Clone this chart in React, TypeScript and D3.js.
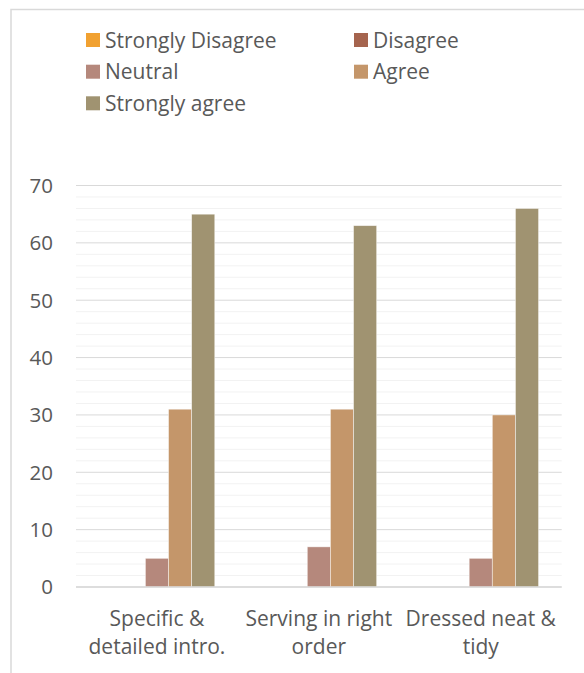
import React from "react";
import * as d3 from "d3";

const categories = [
  ["Specific &", "detailed intro."],
  ["Serving in right", "order"],
  ["Dressed neat &", "tidy"],
];
const categoryKeys = ["c1", "c2", "c3"];

const seriesNames = ["Strongly Disagree", "Disagree", "Neutral", "Agree", "Strongly agree"];
const seriesColors = ["#F1A131", "#A5644E", "#B5887C", "#C4966A", "#A09371"];

const stronglyDisagree = [0, 0, 0];
const disagree = [0, 0, 0];
const neutral = [5, 7, 5];
const agree = [31, 31, 30];
const stronglyAgree = [65, 63, 66];

const seriesValues = [stronglyDisagree, disagree, neutral, agree, stronglyAgree];

const yTicks = [0, 10, 20, 30, 40, 50, 60, 70];
const yMinorTicks = d3.range(0, 71, 2).filter((v) => v % 10 !== 0);

const W = 584;
const H = 673;
const FONT = "'Open Sans', sans-serif";
const TEXT = "#595959";
const FS = 21;

export default function App() {
  const x = d3.scaleBand<string>().domain(categoryKeys).range([76, 561.7]);
  const xs = d3
    .scaleBand<string>()
    .domain(seriesNames)
    .range([0, x.bandwidth()])
    .paddingInner(0)
    .paddingOuter(1);
  const y = d3.scaleLinear().domain([0, 70]).range([587, 185.5]);

  const [x0, x1] = x.range();

  const legendPos = [
    [86, 40],
    [354, 40],
    [86, 71.7],
    [354, 71.7],
    [86, 103.3],
  ];

  return (
    <svg
      width={W}
      height={H}
      style={{ position: "absolute", left: 0, top: 0, background: "#fff" }}
      fontFamily={FONT}
    >
      {/* chart frame */}
      <rect x={11} y={9.5} width={W + 20} height={H + 20} fill="#fff" stroke="#d9d9d9" strokeWidth={1.5} />

      {/* legend */}
      {seriesNames.map((name, i) => (
        <g key={name} transform={`translate(${legendPos[i][0]},${legendPos[i][1]})`}>
          <rect x={0} y={-7} width={14} height={14} fill={seriesColors[i]} />
          <text x={19} y={0} dy="0.36em" fontSize={FS} fill={TEXT}>
            {name}
          </text>
        </g>
      ))}

      {/* gridlines */}
      {yMinorTicks.map((t) => (
        <line key={"m" + t} x1={x0} x2={x1} y1={y(t)} y2={y(t)} stroke="#f2f2f2" strokeWidth={1} />
      ))}
      {yTicks.map((t) => (
        <line key={"g" + t} x1={x0} x2={x1} y1={y(t)} y2={y(t)} stroke="#d9d9d9" strokeWidth={1} />
      ))}

      {/* bars */}
      {categoryKeys.map((c, ci) => (
        <g key={c} transform={`translate(${x(c)},0)`}>
          {seriesNames.map((s, si) => {
            const v = seriesValues[si][ci];
            return (
              <rect
                key={s}
                x={xs(s)}
                y={y(v)}
                width={xs.bandwidth()}
                height={y(0) - y(v)}
                fill={seriesColors[si]}
                stroke="#ffffff"
                strokeOpacity={0.6}
                strokeWidth={0.75}
              />
            );
          })}
        </g>
      ))}

      {/* x axis line */}
      <line x1={x0} x2={x1} y1={y(0)} y2={y(0)} stroke="#d9d9d9" strokeWidth={1.5} />

      {/* y tick labels */}
      {yTicks.map((t) => (
        <text key={"yl" + t} x={53} y={y(t)} dy="0.36em" textAnchor="end" fontSize={20.5} fill={TEXT}>
          {t}
        </text>
      ))}

      {/* category labels */}
      {categoryKeys.map((c, ci) => (
        <text key={"xl" + c} textAnchor="middle" fontSize={FS} fill={TEXT}>
          {categories[ci].map((line, li) => (
            <tspan key={li} x={(x(c) as number) + x.bandwidth() / 2} y={626 + li * 28}>
              {line}
            </tspan>
          ))}
        </text>
      ))}
    </svg>
  );
}
